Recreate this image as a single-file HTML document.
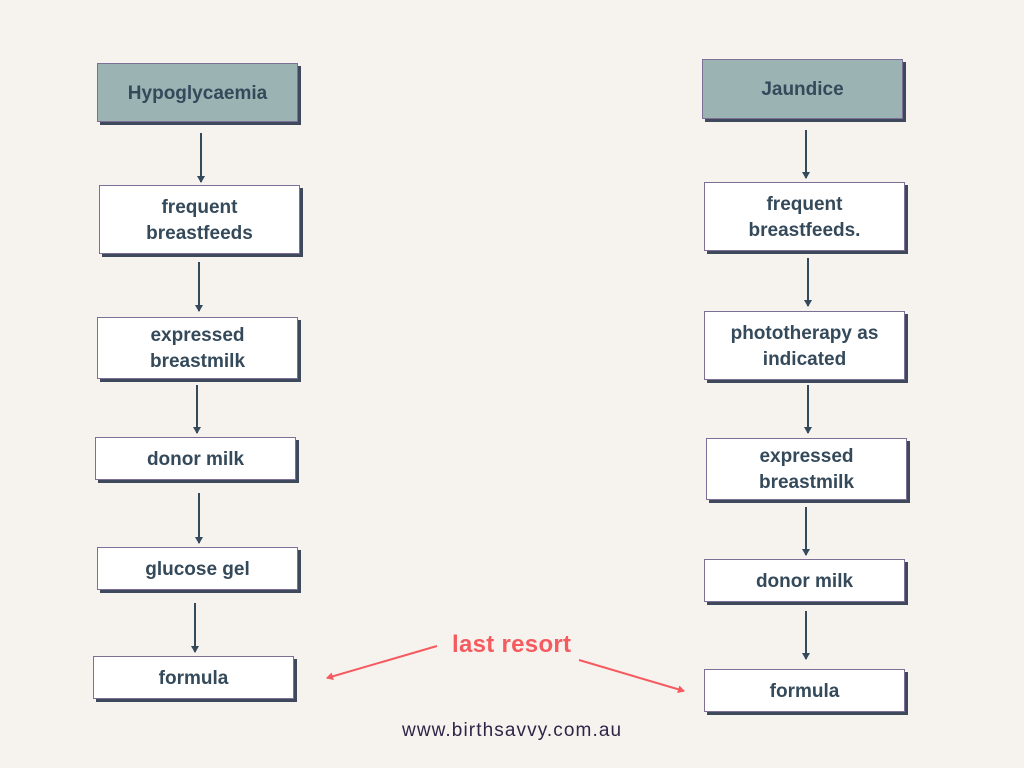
<!DOCTYPE html>
<html><head><style>
body{margin:0;width:1024px;height:768px;background:#f6f3ef;position:relative;overflow:hidden;font-family:"Liberation Sans",sans-serif}
.b{position:absolute;box-sizing:border-box;background:#fff;border:1px solid #7d6f96;box-shadow:3px 3px 0 #3e4a5b;display:flex;align-items:center;justify-content:center;text-align:center;color:#34495a;font-weight:bold;font-size:19px;line-height:26px;width:201px;padding-top:2px}
.h{background:#9bb3b3}
svg{position:absolute;left:0;top:0}
.lr{position:absolute;left:452px;top:631px;color:#f55a5f;font-weight:bold;font-size:24px;letter-spacing:0.3px}
.url{position:absolute;left:402px;top:720px;color:#2f2446;font-size:19px;letter-spacing:1.1px}
</style></head><body>
<svg width="1024" height="768">
<defs><marker id="a" markerWidth="8" markerHeight="8" refX="6" refY="4" orient="auto" markerUnits="userSpaceOnUse"><path d="M0,0L7,4L0,8z" fill="#34495a"/></marker>
<marker id="r" markerWidth="8" markerHeight="8" refX="6" refY="4" orient="auto" markerUnits="userSpaceOnUse"><path d="M0,0L7,4L0,8z" fill="#f55a5f"/></marker></defs>
<g stroke="#34495a" stroke-width="2" marker-end="url(#a)">
<line x1="201" y1="133" x2="201" y2="182"/><line x1="199" y1="262" x2="199" y2="311"/><line x1="197" y1="385" x2="197" y2="433"/><line x1="199" y1="493" x2="199" y2="543"/><line x1="195" y1="603" x2="195" y2="652"/>
<line x1="806" y1="130" x2="806" y2="178"/><line x1="808" y1="258" x2="808" y2="306"/><line x1="808" y1="385" x2="808" y2="433"/><line x1="806" y1="507" x2="806" y2="555"/><line x1="806" y1="611" x2="806" y2="659"/>
</g>
<g stroke="#f55a5f" stroke-width="2" marker-end="url(#r)">
<line x1="437" y1="646" x2="327" y2="678"/><line x1="579" y1="660" x2="684" y2="691"/>
</g>
</svg>
<div class="b h" style="left:97px;top:63px;height:59px">Hypoglycaemia</div>
<div class="b" style="left:99px;top:185px;height:69px">frequent<br>breastfeeds</div>
<div class="b" style="left:97px;top:317px;height:62px">expressed<br>breastmilk</div>
<div class="b" style="left:95px;top:437px;height:43px">donor milk</div>
<div class="b" style="left:97px;top:547px;height:43px">glucose gel</div>
<div class="b" style="left:93px;top:656px;height:43px">formula</div>
<div class="b h" style="left:702px;top:59px;height:60px">Jaundice</div>
<div class="b" style="left:704px;top:182px;height:69px">frequent<br>breastfeeds.</div>
<div class="b" style="left:704px;top:311px;height:69px">phototherapy as<br>indicated</div>
<div class="b" style="left:706px;top:438px;height:62px">expressed<br>breastmilk</div>
<div class="b" style="left:704px;top:559px;height:43px">donor milk</div>
<div class="b" style="left:704px;top:669px;height:43px">formula</div>
<div class="lr">last resort</div>
<div class="url">www.birthsavvy.com.au</div>
</body></html>
